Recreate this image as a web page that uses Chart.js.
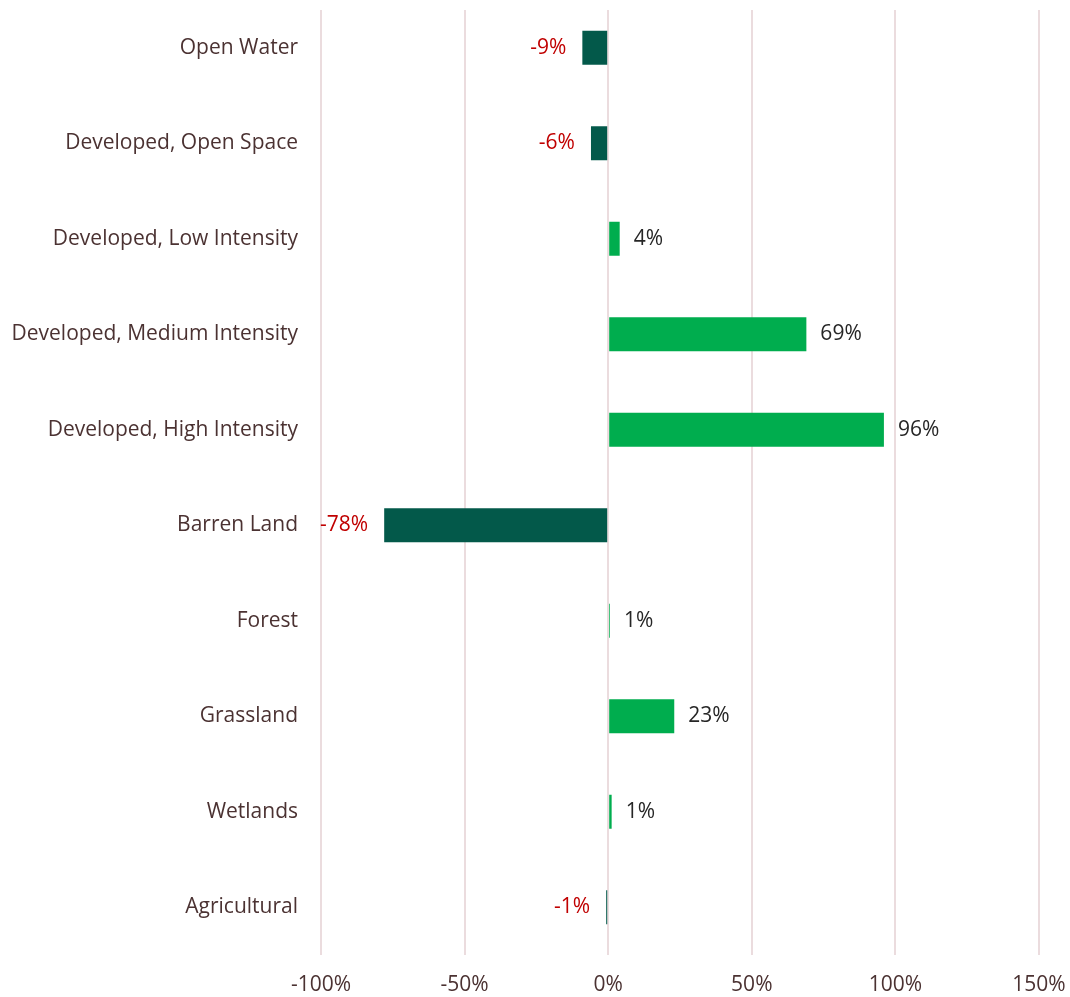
<!DOCTYPE html>
<html>
<head>
<meta http-equiv="Content-Type" content="text/html;charset=utf-8" />
<script src="https://cdn.jsdelivr.net/npm/chart.js@4"></script>
<style>
  body { margin: 0; background: #fff; }
</style>
</head>
<body>
<canvas id="landChange" width="1070" height="997"></canvas>

<script type="text/javascript">
    // land cover categories, top to bottom
    var categories = [
        'Open Water',
        'Developed, Open Space',
        'Developed, Low Intensity',
        'Developed, Medium Intensity',
        'Developed, High Intensity',
        'Barren Land',
        'Forest',
        'Grassland',
        'Wetlands',
        'Agricultural'
    ];
    // percent change
    var changes = [-9, -6, 4, 69, 96, -78, 0.6, 23, 1.2, -0.7];
    var xMin = -100;
    var xMax = 150;
    var xStep = 50;

    var posColor = '#00AD4E';
    var negColor = '#03594A';
    var fontFam = '"Open Sans", Lato, sans-serif';
    var fontSize = 21;

    // draws the value label next to each bar
    var barLabels = {
        id: 'barLabels',
        beforeDatasetsDraw: function (chart) {
            // gridlines in the original start a little below the top
            var a = chart.chartArea;
            chart.ctx.save();
            chart.ctx.fillStyle = '#fff';
            chart.ctx.fillRect(a.left - 3, 0, a.right - a.left + 6, 10);
            chart.ctx.restore();
        },
        afterDatasetsDraw: function (chart) {
            var ctx = chart.ctx;
            var meta = chart.getDatasetMeta(0);
            ctx.save();
            ctx.font = fontSize + 'px ' + fontFam;
            ctx.textBaseline = 'middle';
            meta.data.forEach(function (bar, i) {
                var v = changes[i];
                var txt = Math.round(v) + '%';
                if (v < 0) {
                    ctx.fillStyle = '#C00000';
                    ctx.textAlign = 'right';
                    ctx.fillText(txt, bar.x - 16, bar.y);
                } else {
                    ctx.fillStyle = '#262626';
                    ctx.textAlign = 'left';
                    ctx.fillText(txt, bar.x + 14, bar.y);
                }
            });
            ctx.restore();
        }
    };

    var ctx = document.getElementById('landChange').getContext('2d');
    var chart = new Chart(ctx, {
        type: 'bar',
        data: {
            labels: categories,
            datasets: [{
                data: changes,
                backgroundColor: changes.map(function (v) { return v < 0 ? negColor : posColor; }),
                borderWidth: 0,
                categoryPercentage: 1,
                barPercentage: 0.356
            }]
        },
        options: {
            indexAxis: 'y',
            responsive: false,
            animation: false,
            layout: { padding: 0 },
            plugins: {
                legend: { display: false },
                tooltip: { enabled: false }
            },
            scales: {
                x: {
                    min: xMin,
                    max: xMax,
                    ticks: {
                        stepSize: xStep,
                        color: '#4B3232',
                        font: { size: fontSize, family: fontFam },
                        padding: 17,
                        callback: function (v) { return v + '%'; }
                    },
                    grid: { color: '#EBDCDE', lineWidth: 2, drawTicks: false },
                    border: { display: false },
                    afterFit: function (scale) {
                        scale.height = 42;
                        scale.paddingLeft = 0;
                        scale.paddingRight = 31;
                    }
                },
                y: {
                    ticks: {
                        color: '#4B3232',
                        font: { size: fontSize, family: fontFam },
                        padding: 23
                    },
                    grid: { display: false, drawTicks: false },
                    border: { display: false },
                    afterFit: function (scale) {
                        // no extra top/bottom room for the first/last label
                        scale.paddingTop = 0;
                        scale.paddingBottom = 0;
                        scale.width = 321;
                    }
                }
            }
        },
        plugins: [barLabels]
    });
</script>
</body>
</html>
